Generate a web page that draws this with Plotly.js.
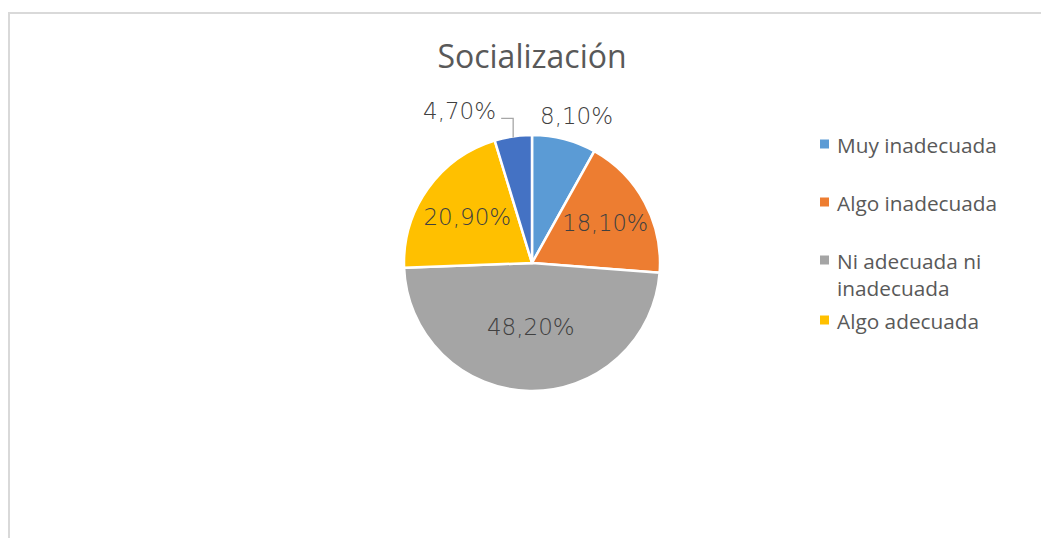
<!DOCTYPE html>
<html>
<head>
<meta charset="utf-8">
<script src="https://cdn.plot.ly/plotly-3.0.1.min.js"></script>
<style>
  html, body { margin: 0; padding: 0; background: #ffffff; }
  #wrap { position: relative; width: 1041px; height: 538px; overflow: hidden; background: #ffffff; }
  #frame { position: absolute; left: 8px; top: 12px; width: 1100px; height: 600px;
           border-left: 2px solid #d9d9d9; border-top: 2px solid #d9d9d9; }
  #chart { position: absolute; left: 0; top: 0; width: 1041px; height: 538px; }
</style>
</head>
<body>
<div id="wrap">
  <div id="frame"></div>
  <div id="chart"></div>
</div>
<script>
// ---- data ----
const categories = ["Muy inadecuada", "Algo inadecuada", "Ni adecuada ni inadecuada", "Algo adecuada", "Muy adecuada"];
const values = [8.1, 18.1, 48.2, 20.9, 4.7];
const colors = ["#5B9BD5", "#ED7D31", "#A5A5A5", "#FFC000", "#4472C4"];
const legendLabels = ["Muy inadecuada", "Algo inadecuada", "Ni adecuada ni<br>inadecuada", "Algo adecuada"];
const chartTitle = "Socialización";

// ---- geometry (pixels in the 1041x538 page) ----
const W = 1041, H = 538;
const cx = 532, cy = 263, R = 128;
const px = x => x / W;
const py = y => 1 - y / H;

const fmt = v => v.toFixed(2).replace('.', ',') + '%';
// slices whose labels sit outside the pie (drawn as anchored annotations)
const outsideIdx = [0, values.length - 1];
const templates = values.map((v, i) => outsideIdx.includes(i) ? '' : '%{value:.2f}%');

const labelFont = { family: 'DejaVu Sans', size: 23, color: '#404040', weight: 300 };

const pie = {
  type: 'pie',
  labels: categories,
  values: values,
  sort: false,
  direction: 'clockwise',
  rotation: 0,
  marker: { colors: colors, line: { color: '#ffffff', width: 2.5 } },
  texttemplate: templates,
  textposition: 'inside',
  insidetextorientation: 'horizontal',
  textfont: labelFont,
  insidetextfont: labelFont,
  hoverinfo: 'label+percent',
  showlegend: false,
  automargin: false,
  domain: { x: [px(cx - R), px(cx + R)], y: [py(cy + R), py(cy - R)] }
};

// mid-angle anchor on the arc for slice i
const total = values.reduce((a, b) => a + b, 0);
function arcPoint(i) {
  const before = values.slice(0, i).reduce((a, b) => a + b, 0);
  const ang = (before + values[i] / 2) / total * 2 * Math.PI;
  return [cx + R * Math.sin(ang), cy - R * Math.cos(ang)];
}

const shapes = [];
const annotations = [];

// first slice: label just above-right of its arc point
{
  const [x0, y0] = arcPoint(0);
  annotations.push({
    xref: 'paper', yref: 'paper', x: px(x0 + 12), y: py(y0 - 23),
    xanchor: 'center', yanchor: 'middle', showarrow: false,
    text: fmt(values[0]), font: labelFont
  });
}
// last slice: leader line with elbow
{
  const i = values.length - 1;
  const [x0, y0] = arcPoint(i);
  const elbowY = y0 - 18, elbowX = x0 - 12;
  shapes.push({
    type: 'path', xref: 'paper', yref: 'paper',
    path: `M ${px(x0)} ${py(y0 + 1)} L ${px(x0)} ${py(elbowY)} L ${px(elbowX)} ${py(elbowY)}`,
    line: { color: '#a6a6a6', width: 1.3 }
  });
  annotations.push({
    xref: 'paper', yref: 'paper', x: px(elbowX - 3), y: py(elbowY - 7),
    xanchor: 'right', yanchor: 'middle', showarrow: false,
    text: fmt(values[i]), font: labelFont
  });
}

// legend (first four categories, as shown in the reference)
const legendY = [144, 202, 260, 320];
legendLabels.forEach((lab, i) => {
  annotations.push({
    xref: 'paper', yref: 'paper', x: px(835), y: py(legendY[i] - 15),
    xanchor: 'left', yanchor: 'top', align: 'left', showarrow: false,
    text: lab,
    font: { family: 'Open Sans', size: 20.8, color: '#595959' }
  });
  shapes.push({
    type: 'rect', xref: 'paper', yref: 'paper',
    x0: px(820), x1: px(829), y0: py(legendY[i] - 4.5), y1: py(legendY[i] + 4.5),
    fillcolor: colors[i], line: { width: 0 }
  });
});

const layout = {
  width: W, height: H,
  margin: { l: 0, r: 0, t: 0, b: 0 },
  paper_bgcolor: 'rgba(0,0,0,0)',
  plot_bgcolor: 'rgba(0,0,0,0)',
  separators: ',.',
  showlegend: false,
  title: {
    text: chartTitle,
    font: { family: 'Open Sans', size: 32, color: '#595959' },
    x: px(532), xanchor: 'center', xref: 'paper',
    y: py(57), yanchor: 'middle', yref: 'container'
  },
  shapes: shapes,
  annotations: annotations
};

Plotly.newPlot('chart', [pie], layout, { displayModeBar: false, staticPlot: true });
</script>
</body>
</html>
